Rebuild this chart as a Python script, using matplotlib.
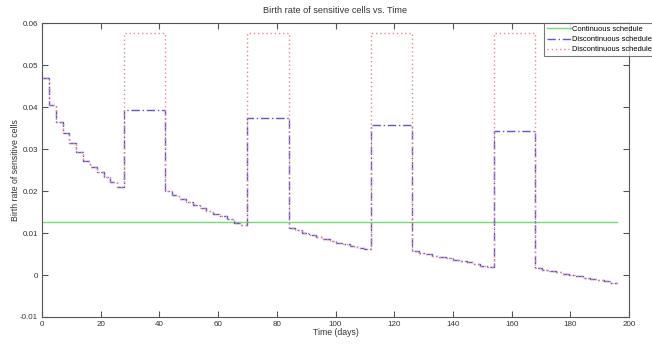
import numpy as np
import matplotlib
matplotlib.use("Agg")
import matplotlib.pyplot as plt
from matplotlib.ticker import FuncFormatter

plt.rcParams['font.family'] = ['Liberation Sans', 'DejaVu Sans']

# one dose period = 7/3 days, 84 periods over 196 days
dt = 7.0 / 3.0
n_steps = 84

# off-treatment stretches (12 steps each)
off1 = [0.0468, 0.0406, 0.0365, 0.0337, 0.0314, 0.0292, 0.0271, 0.0258, 0.0246, 0.0233, 0.0221, 0.0210]
off2 = [0.0200, 0.0191, 0.0182, 0.0174, 0.0166, 0.0159, 0.0152, 0.0146, 0.0140, 0.0133, 0.0125, 0.0119]
off3 = [0.0113, 0.0106, 0.0100, 0.0095, 0.0090, 0.0085, 0.0081, 0.0077, 0.0073, 0.0069, 0.0065, 0.0061]
off4 = [0.0057, 0.0053, 0.0049, 0.0046, 0.0043, 0.0040, 0.0036, 0.0033, 0.0030, 0.0026, 0.0022, 0.0018]
off5 = [0.0016, 0.0012, 0.0009, 0.0006, 0.0003, 0.0000, -0.0003, -0.0006, -0.0009, -0.0012, -0.0015, -0.0018]

# on-treatment levels (6 steps each)
on_sched1 = [0.0394, 0.0373, 0.0357, 0.0342]
on_sched2 = [0.0576, 0.0576, 0.0576, 0.0576]
continuous = 0.0126

labels = ["Continuous schedule", "Discontinuous schedule", "Discontinuous schedule"]

offs = [off1, off2, off3, off4, off5]

def build(on_levels):
    vals = []
    for i, off in enumerate(offs):
        vals += off
        if i < len(on_levels):
            vals += [on_levels[i]] * 6
    vals.append(vals[-1])
    return vals

t = np.arange(n_steps + 1) * dt
d1 = build(on_sched1)
d2 = build(on_sched2)
c = [continuous] * len(t)

fig = plt.figure(figsize=(6.52, 3.44), dpi=100)
ax = fig.add_axes([0.0644, 0.0785, 0.9004, 0.8545])

ax.plot(t, c, color="#70dc70", lw=1.0, label=labels[0])
ax.plot(t, d1, color="#5f55cc", lw=1.0, ls=(0, (6, 2, 1, 2)), drawstyle="steps-post",
        label=labels[1])
ax.plot(t, d2, color="#e68a8a", lw=1.0, ls=(0, (1, 2)), drawstyle="steps-post",
        label=labels[2])

ax.set_xlim(0, 200)
ax.set_ylim(-0.01, 0.06)
ax.set_xticks(np.arange(0, 201, 20))
ax.set_yticks(np.arange(-0.01, 0.0601, 0.01))
ax.yaxis.set_major_formatter(FuncFormatter(lambda v, p: "0" if abs(v) < 1e-9 else ("%g" % round(v, 2))))

for s in ax.spines.values():
    s.set_color("#555555")
    s.set_linewidth(0.8)
ax.tick_params(direction="in", top=True, right=True, length=4, width=0.8,
               color="#555555", labelsize=5.8, labelcolor="#333333", pad=3)

ax.set_title("Birth rate of sensitive cells vs. Time", fontsize=6.6, color="#333333", pad=7)
ax.set_xlabel("Time (days)", fontsize=6.3, color="#333333", labelpad=0)
ax.set_ylabel("Birth rate of sensitive cells", fontsize=6.3, color="#333333")
ax.yaxis.set_label_coords(-0.037, 0.5)

leg = ax.legend(loc="upper left", bbox_to_anchor=(0.855, 1.0), fontsize=5.4, frameon=True,
                fancybox=False, edgecolor="#555555", handlelength=3.3, borderpad=0.35,
                labelspacing=0.4, handletextpad=0.15, borderaxespad=0)
leg.get_frame().set_linewidth(0.8)

fig.savefig("out.png", dpi=100)
